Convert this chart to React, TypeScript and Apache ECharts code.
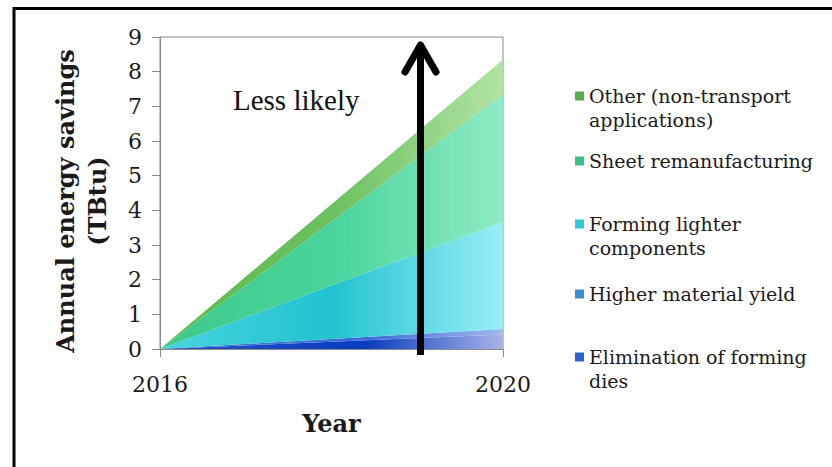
import React, { useEffect, useRef } from "react";
import * as echarts from "echarts";

const years = ["2016", "2020"];
const eliminationDies = [0, 0.42];
const higherYield = [0, 0.16];
const formingLighter = [0, 3.09];
const sheetReman = [0, 3.68];
const otherApps = [0, 1.0];
const yTicks = [0, 9, 1];
const annotation = "Less likely";

const FONT = "DejaVu Serif";

function grad(stops: [number, string][]) {
  return new echarts.graphic.LinearGradient(
    0, 0, 1, 0,
    stops.map(([offset, color]) => ({ offset, color }))
  );
}

export default function App() {
  const ref = useRef<HTMLDivElement>(null);
  useEffect(() => {
    if (!ref.current) return;
    const chart = echarts.init(ref.current, undefined, { renderer: "svg" });
    const mk = (name: string, vals: number[], fill: any, legendColor: string) => ({
      name,
      type: "line",
      stack: "total",
      data: vals,
      showSymbol: false,
      symbol: "none",
      lineStyle: { width: 0 },
      itemStyle: { color: legendColor },
      areaStyle: { color: fill, opacity: 1 },
    });
    const names = [
      "Other (non-transport\napplications)",
      "Sheet remanufacturing",
      "Forming lighter\ncomponents",
      "Higher material yield",
      "Elimination of forming\ndies",
    ];
    const legendTops = [60, 149, 188, 282, 321];
    const legends = names.map((n, i) => ({
      data: [n],
      left: 575,
      top: legendTops[i],
      padding: 0,
      itemWidth: 9,
      itemHeight: 9,
      icon: "rect",
      selectedMode: false,
      formatter: (name: string) => (name.includes("\n") ? "\n" + name : name),
      textStyle: {
        fontFamily: FONT,
        fontSize: 19,
        color: "#1a1a1a",
        lineHeight: 24,
      },
    }));
    chart.setOption({
      animation: false,
      backgroundColor: "#fff",
      grid: {
        left: 160,
        top: 37,
        right: 329,
        bottom: 118,
        show: true,
        borderColor: "#8a8a8a",
        borderWidth: 1,
      },
      legend: legends,
      xAxis: {
        type: "category",
        data: years,
        boundaryGap: false,
        name: "Year",
        nameLocation: "middle",
        nameGap: 62,
        nameTextStyle: { fontFamily: FONT, fontSize: 24, fontWeight: "bold", color: "#1a1a1a" },
        axisLine: { lineStyle: { color: "#8a8a8a" } },
        axisTick: { show: true, length: 8, lineStyle: { color: "#8a8a8a" } },
        axisLabel: {
          fontFamily: FONT,
          fontSize: 22,
          color: "#1a1a1a",
          margin: 24,
        },
        splitLine: { show: false },
      },
      yAxis: {
        type: "value",
        min: yTicks[0],
        max: yTicks[1],
        interval: yTicks[2],
        name: "Annual energy savings\n(TBtu)",
        nameLocation: "middle",
        nameRotate: 90,
        nameGap: 47,
        nameTextStyle: {
          fontFamily: FONT,
          fontSize: 24,
          fontWeight: "bold",
          color: "#1a1a1a",
          lineHeight: 32,
          padding: [0, 16, 0, 0],
        },
        axisLine: { show: true, lineStyle: { color: "#8a8a8a" } },
        axisTick: { show: true, length: 8, lineStyle: { color: "#8a8a8a" } },
        axisLabel: { fontFamily: FONT, fontSize: 22, color: "#1a1a1a", margin: 18 },
        splitLine: { show: false },
      },
      series: [
        mk(names[4], eliminationDies,
          grad([[0, "#2a55c8"], [0.6, "#0a3cc0"], [1, "#a8b4e8"]]), "#3060d0"),
        mk(names[3], higherYield,
          grad([[0, "#3a7ad8"], [0.6, "#3a6ad8"], [1, "#a0b8ec"]]), "#3a8ed8"),
        mk(names[2], formingLighter,
          grad([[0, "#48d4e0"], [0.5, "#22c2d0"], [1, "#98eef6"]]), "#30c8d8"),
        mk(names[1], sheetReman,
          grad([[0, "#40c88a"], [0.5, "#48d49c"], [1, "#90eac4"]]), "#3cc08a"),
        mk(names[0], otherApps,
          grad([[0, "#5cbc4c"], [0.5, "#6cc060"], [1, "#b0e4a4"]]), "#5aae4a"),
      ],
      graphic: [
        {
          type: "rect",
          z: 100,
          shape: { x: 14, y: 8.5, width: 900, height: 600 },
          style: { fill: "none", stroke: "#000", lineWidth: 3 },
          silent: true,
        },
        {
          type: "text",
          z: 100,
          x: 233,
          y: 85,
          style: { text: annotation, fontFamily: "Liberation Serif", fontSize: 29, fill: "#111" },
        },
        {
          type: "line",
          z: 100,
          shape: { x1: 420.5, y1: 355, x2: 420.5, y2: 46 },
          style: { stroke: "#000", lineWidth: 7 },
        },
        {
          type: "polyline",
          z: 100,
          shape: { points: [[405, 72], [420.5, 45], [436, 72]] },
          style: { stroke: "#000", lineWidth: 7, fill: "none", lineCap: "round", lineJoin: "round" },
        },
      ],
    });
    return () => chart.dispose();
  }, []);
  return (
    <div
      ref={ref}
      style={{ position: "absolute", left: 0, top: 0, width: 832, height: 467 }}
    />
  );
}
